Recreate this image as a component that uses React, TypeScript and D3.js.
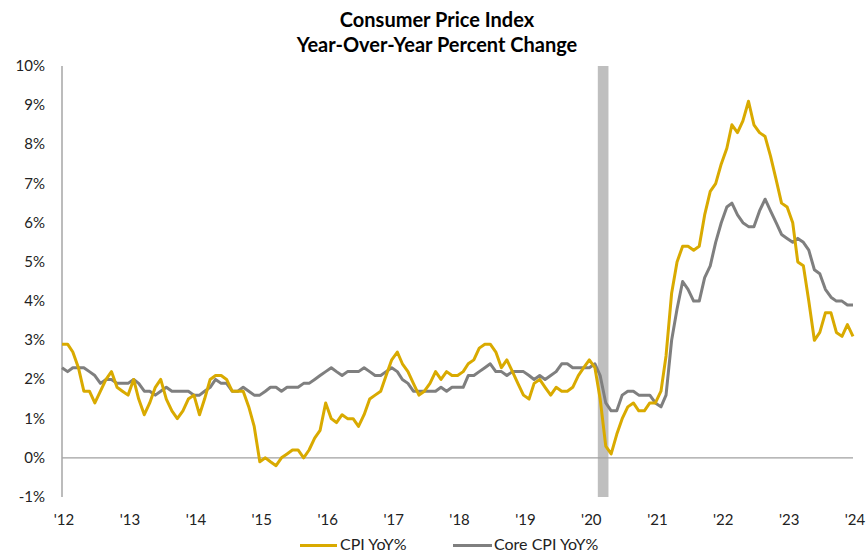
import React from 'react';
import * as d3 from 'd3';

// monthly YoY %, Jan 2012 .. Jan 2024
const cpi = [
  2.9, 2.9, 2.7, 2.3, 1.7, 1.7, 1.4, 1.7, 2.0, 2.2, 1.8, 1.7,
  1.6, 2.0, 1.5, 1.1, 1.4, 1.8, 2.0, 1.5, 1.2, 1.0, 1.2, 1.5,
  1.6, 1.1, 1.5, 2.0, 2.1, 2.1, 2.0, 1.7, 1.7, 1.7, 1.3, 0.8,
  -0.1, 0.0, -0.1, -0.2, 0.0, 0.1, 0.2, 0.2, 0.0, 0.2, 0.5, 0.7,
  1.4, 1.0, 0.9, 1.1, 1.0, 1.0, 0.8, 1.1, 1.5, 1.6, 1.7, 2.1,
  2.5, 2.7, 2.4, 2.2, 1.9, 1.6, 1.7, 1.9, 2.2, 2.0, 2.2, 2.1,
  2.1, 2.2, 2.4, 2.5, 2.8, 2.9, 2.9, 2.7, 2.3, 2.5, 2.2, 1.9,
  1.6, 1.5, 1.9, 2.0, 1.8, 1.6, 1.8, 1.7, 1.7, 1.8, 2.1, 2.3,
  2.5, 2.3, 1.5, 0.3, 0.1, 0.6, 1.0, 1.3, 1.4, 1.2, 1.2, 1.4,
  1.4, 1.7, 2.6, 4.2, 5.0, 5.4, 5.4, 5.3, 5.4, 6.2, 6.8, 7.0,
  7.5, 7.9, 8.5, 8.3, 8.6, 9.1, 8.5, 8.3, 8.2, 7.7, 7.1, 6.5,
  6.4, 6.0, 5.0, 4.9, 4.0, 3.0, 3.2, 3.7, 3.7, 3.2, 3.1, 3.4,
  3.1,
];

const coreCpi = [
  2.3, 2.2, 2.3, 2.3, 2.3, 2.2, 2.1, 1.9, 2.0, 2.0, 1.9, 1.9,
  1.9, 2.0, 1.9, 1.7, 1.7, 1.6, 1.7, 1.8, 1.7, 1.7, 1.7, 1.7,
  1.6, 1.6, 1.7, 1.8, 2.0, 1.9, 1.9, 1.7, 1.7, 1.8, 1.7, 1.6,
  1.6, 1.7, 1.8, 1.8, 1.7, 1.8, 1.8, 1.8, 1.9, 1.9, 2.0, 2.1,
  2.2, 2.3, 2.2, 2.1, 2.2, 2.2, 2.2, 2.3, 2.2, 2.1, 2.1, 2.2,
  2.3, 2.2, 2.0, 1.9, 1.7, 1.7, 1.7, 1.7, 1.7, 1.8, 1.7, 1.8,
  1.8, 1.8, 2.1, 2.1, 2.2, 2.3, 2.4, 2.2, 2.2, 2.1, 2.2, 2.2,
  2.2, 2.1, 2.0, 2.1, 2.0, 2.1, 2.2, 2.4, 2.4, 2.3, 2.3, 2.3,
  2.3, 2.4, 2.1, 1.4, 1.2, 1.2, 1.6, 1.7, 1.7, 1.6, 1.6, 1.6,
  1.4, 1.3, 1.6, 3.0, 3.8, 4.5, 4.3, 4.0, 4.0, 4.6, 4.9, 5.5,
  6.0, 6.4, 6.5, 6.2, 6.0, 5.9, 5.9, 6.3, 6.6, 6.3, 6.0, 5.7,
  5.6, 5.5, 5.6, 5.5, 5.3, 4.8, 4.7, 4.3, 4.1, 4.0, 4.0, 3.9,
  3.9,
];

const yearTicks = [2012, 2013, 2014, 2015, 2016, 2017, 2018, 2019, 2020, 2021, 2022, 2023, 2024];
const pctTicks = [-1, 0, 1, 2, 3, 4, 5, 6, 7, 8, 9, 10];
const recession = [new Date(2020, 1, 17), new Date(2020, 3, 16)];

const W = 867;
const H = 554;
const font = 'Lato, "Open Sans", sans-serif';
const gold = '#D9AA00';
const grey = '#7F7F7F';

export default function App() {
  const months = d3.range(cpi.length).map((i) => new Date(2012, i, 1));
  const x = d3.scaleTime().domain([new Date(2012, 0, 1), new Date(2024, 0, 1)]).range([62, 853]);
  const y = d3.scaleLinear().domain([-1, 10]).range([497, 66]);

  const line = d3.line<number>()
    .x((_, i) => x(months[i]))
    .y((d) => y(d));

  return (
    <svg width={W} height={H} style={{ position: 'absolute', left: 0, top: 0, background: '#fff' }}>
      <g fontFamily={font} textAnchor="middle" fontWeight="bold" fontSize={20} fill="#000">
        <text x={437} y={27}>Consumer Price Index</text>
        <text x={437} y={52}>Year-Over-Year Percent Change</text>
      </g>

      <rect
        x={x(recession[0])}
        y={y(10)}
        width={x(recession[1]) - x(recession[0])}
        height={y(-1) - y(10)}
        fill="#BFBFBF"
      />

      <line x1={62} x2={853} y1={y(0)} y2={y(0)} stroke="#A0A0A0" strokeWidth={1.2} />
      <line x1={62} x2={62} y1={y(10)} y2={y(-1)} stroke="#A6A6A6" strokeWidth={1.5} />

      <g fontFamily={font} fontSize={15} fill="#222" textAnchor="end">
        {pctTicks.map((t) => (
          <text key={t} x={45} y={y(t) + 5}>{t}%</text>
        ))}
      </g>
      <g fontFamily={font} fontSize={15} fill="#222" textAnchor="middle">
        {yearTicks.map((yr) => (
          <text key={yr} x={x(new Date(yr, 0, 1)) + 2} y={525}>
            {"'" + String(yr).slice(2)}
          </text>
        ))}
      </g>

      <path d={line(coreCpi) ?? ''} fill="none" stroke={grey} strokeWidth={3} strokeLinejoin="round" />
      <path d={line(cpi) ?? ''} fill="none" stroke={gold} strokeWidth={3} strokeLinejoin="round" />

      <g fontFamily={font} fontSize={16} fill="#222">
        <line x1={300} x2={337} y1={545.5} y2={545.5} stroke={gold} strokeWidth={3} />
        <text x={340} y={550}>CPI YoY%</text>
        <line x1={453} x2={492} y1={545.5} y2={545.5} stroke={grey} strokeWidth={3} />
        <text x={494} y={550}>Core CPI YoY%</text>
      </g>
    </svg>
  );
}
